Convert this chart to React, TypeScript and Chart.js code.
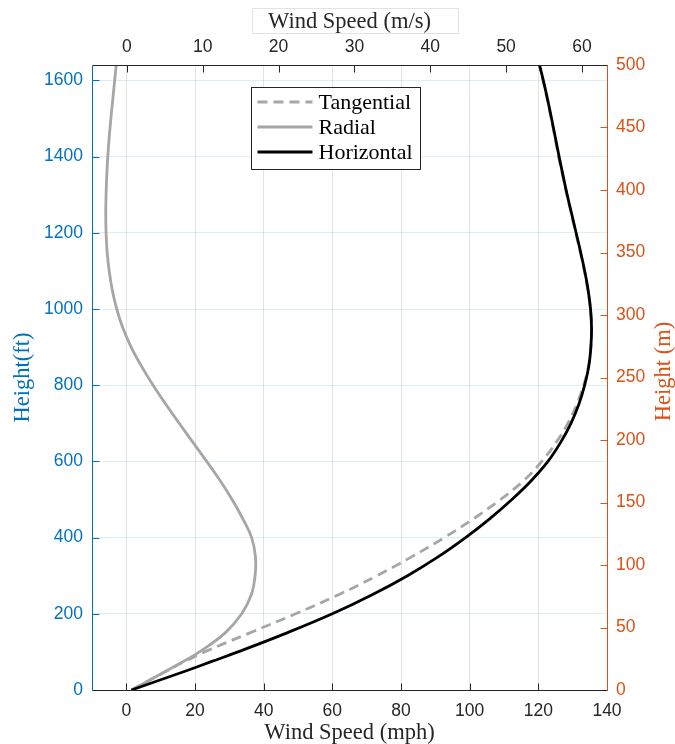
import React, { useEffect, useRef } from "react";
import { Chart, registerables } from "chart.js";

Chart.register(...registerables);

// ---------- data ----------
const heightFt = [
  0, 25, 50, 75, 100, 150, 200, 250, 300, 350, 400, 450, 500, 550, 600, 650, 700, 750,
  800, 850, 900, 950, 1000, 1050, 1100, 1150, 1200, 1250, 1300, 1350, 1400, 1450, 1500,
  1550, 1600, 1640.42,
];
const tangentialMph = [
  1.5, 6.6, 11.8, 17.0, 22.8, 36.0, 49.3, 61.8, 73.0, 83.2, 92.6, 101.2, 109.0, 115.8,
  121.0, 125.2, 128.6, 131.2, 133.2, 134.6, 135.3, 135.5, 135.2, 134.4, 133.4, 132.2,
  130.9, 129.6, 128.3, 127.1, 125.9, 124.85, 123.75, 122.6, 121.35, 120.25,
];
const radialMph = [
  1.5, 6.6, 11.6, 16.6, 21.3, 28.8, 33.6, 36.4, 37.5, 37.6, 36.5, 33.9, 30.8, 27.3, 23.4,
  19.4, 15.4, 11.5, 7.8, 4.4, 1.4, -1.0, -2.8, -4.1, -5.0, -5.6, -5.9, -6.0, -5.9, -5.7,
  -5.4, -5.0, -4.5, -3.95, -3.4, -2.95,
];
const horizontalMph = [
  1.5, 9.4, 17.3, 24.9, 32.5, 46.8, 60.0, 71.6, 81.9, 90.9, 98.8, 105.9, 112.3, 118.0,
  122.8, 126.5, 129.5, 131.8, 133.5, 134.7, 135.3, 135.5, 135.2, 134.5, 133.5, 132.3,
  131.0, 129.7, 128.4, 127.2, 126.05, 124.95, 123.85, 122.7, 121.45, 120.35,
];
const seriesNames = ["Tangential", "Radial", "Horizontal"];

const mphTicks = [0, 20, 40, 60, 80, 100, 120, 140];
const msTicks = [0, 10, 20, 30, 40, 50, 60];
const ftTicks = [0, 200, 400, 600, 800, 1000, 1200, 1400, 1600];
const mTicks = [0, 50, 100, 150, 200, 250, 300, 350, 400, 450, 500];

const mphRange = [-10, 140];
const msRange = [-4.6, 63.3];
const ftRange = [0, 1640.42];
const mRange = [0, 500];

const bottomTitle = "Wind Speed (mph)";
const topTitle = "Wind Speed (m/s)";
const leftTitle = "Height(ft)";
const rightTitle = "Height (m)";

// ---------- styles ----------
const AXIS = "#262626";
const BLUE = "#0072BD";
const ORANGE = "#D95319";
const GRAY = "#A6A6A6";
const SERIF = "'Liberation Serif', 'Times New Roman', serif";
const SANS = "'Liberation Sans', Arial, sans-serif";

const toPoints = (xs: number[]) => xs.map((x, i) => ({ x, y: heightFt[i] }));
const plainLabel = (v: any) => String(v);

const decorPlugin = {
  id: "decor",
  afterDraw(chart: any) {
    const { ctx, chartArea: a, scales } = chart;
    ctx.save();
    const tl = 7;
    const seg = (x1: number, y1: number, x2: number, y2: number, c: string, w = 1) => {
      ctx.beginPath();
      ctx.strokeStyle = c;
      ctx.lineWidth = w;
      ctx.moveTo(x1, y1);
      ctx.lineTo(x2, y2);
      ctx.stroke();
    };
    const L = Math.round(a.left) + 0.5;
    const R = Math.round(a.right) + 0.5;
    const T = Math.round(a.top) + 0.5;
    const B = Math.round(a.bottom) + 0.5;
    // tick marks (inside)
    scales.x.ticks.forEach((t: any) => {
      const p = Math.round(scales.x.getPixelForValue(t.value)) + 0.5;
      seg(p, B, p, B - tl, AXIS);
    });
    scales.x2.ticks.forEach((t: any) => {
      const p = Math.round(scales.x2.getPixelForValue(t.value)) + 0.5;
      seg(p, T, p, T + tl, AXIS);
    });
    scales.y.ticks.forEach((t: any) => {
      const p = Math.round(scales.y.getPixelForValue(t.value)) + 0.5;
      seg(L, p, L + tl, p, BLUE);
    });
    scales.y2.ticks.forEach((t: any) => {
      const p = Math.round(scales.y2.getPixelForValue(t.value)) + 0.5;
      seg(R, p, R - tl, p, ORANGE);
    });
    // axis box
    seg(L, T, R, T, AXIS);
    seg(L, B, R, B, AXIS);
    seg(L, T, L, B, BLUE);
    seg(R, T, R, B, ORANGE);

    // faint box around top title
    ctx.strokeStyle = "#e3e3e3";
    ctx.lineWidth = 1;
    ctx.strokeRect(L + 160, 8.5, 206, 25);

    // right axis title (reads bottom-to-top)
    ctx.save();
    ctx.translate(664, (a.top + a.bottom) / 2 - 6);
    ctx.rotate(-Math.PI / 2);
    ctx.fillStyle = ORANGE;
    ctx.font = `22.5px ${SERIF}`;
    ctx.textAlign = "center";
    ctx.textBaseline = "middle";
    ctx.fillText(rightTitle, 0, 0);
    ctx.restore();

    // legend
    const lx = L + 159;
    const ly = T + 22;
    const lw = 169;
    const lh = 82;
    ctx.fillStyle = "#ffffff";
    ctx.fillRect(lx, ly, lw, lh);
    ctx.strokeStyle = AXIS;
    ctx.lineWidth = 1;
    ctx.strokeRect(lx, ly, lw, lh);
    const styles = [
      { c: GRAY, dash: [10, 6] },
      { c: GRAY, dash: [] },
      { c: "#000000", dash: [] },
    ];
    ctx.font = `22px ${SERIF}`;
    ctx.textBaseline = "middle";
    ctx.textAlign = "left";
    seriesNames.forEach((name, i) => {
      const yy = ly + 14.5 + i * 25;
      ctx.save();
      ctx.setLineDash(styles[i].dash);
      seg(lx + 6, yy, lx + 61, yy, styles[i].c, 2.8);
      ctx.restore();
      ctx.fillStyle = "#000000";
      ctx.fillText(name, lx + 67, yy + 1);
    });
    ctx.restore();
  },
};

export default function App() {
  const ref = useRef<HTMLCanvasElement | null>(null);
  useEffect(() => {
    if (!ref.current) return;
    const setTicks = (vals: number[]) => (scale: any) => {
      scale.ticks = vals.map((v) => ({ value: v }));
    };
    const lineBase = {
      pointRadius: 0,
      borderWidth: 2.8,
      tension: 0.4,
      xAxisID: "x",
      yAxisID: "y",
    };
    const chart = new Chart(ref.current, {
      type: "line",
      data: {
        datasets: [
          {
            ...lineBase,
            label: seriesNames[0],
            data: toPoints(tangentialMph),
            borderColor: GRAY,
            borderDash: [10, 6],
            order: 1,
          },
          {
            ...lineBase,
            label: seriesNames[1],
            data: toPoints(radialMph),
            borderColor: GRAY,
            order: 2,
          },
          {
            ...lineBase,
            label: seriesNames[2],
            data: toPoints(horizontalMph),
            borderColor: "#000000",
            order: 0,
          },
        ],
      },
      options: {
        indexAxis: "y",
        animation: false,
        responsive: false,
        devicePixelRatio: 1,
        layout: { padding: 0 },
        plugins: { legend: { display: false }, tooltip: { enabled: false } },
        scales: {
          x: {
            type: "linear",
            position: "bottom",
            min: mphRange[0],
            max: mphRange[1],
            afterBuildTicks: setTicks(mphTicks),
            afterFit: (s: any) => {
              s.height = 54;
            },
            grid: { color: "rgba(38,38,38,0.13)", lineWidth: 1, drawTicks: false },
            border: { display: false },
            ticks: {
              color: AXIS,
              padding: 11,
              font: { family: SANS, size: 17.5 },
              maxRotation: 0,
              callback: plainLabel,
            },
            title: {
              display: true,
              text: bottomTitle,
              color: AXIS,
              font: { family: SERIF, size: 22.5, lineHeight: 1 },
              padding: { top: 0, bottom: 0 },
            },
          },
          x2: {
            type: "linear",
            position: "top",
            min: msRange[0],
            max: msRange[1],
            afterBuildTicks: setTicks(msTicks),
            afterFit: (s: any) => {
              s.height = 65;
            },
            grid: { display: false, drawTicks: false },
            border: { display: false },
            ticks: {
              color: AXIS,
              padding: 7,
              font: { family: SANS, size: 17.5 },
              maxRotation: 0,
              callback: plainLabel,
            },
            title: {
              display: true,
              text: topTitle,
              color: AXIS,
              font: { family: SERIF, size: 22.5, lineHeight: 1 },
              padding: { top: 11, bottom: 0 },
            },
          },
          y: {
            type: "linear",
            position: "left",
            min: ftRange[0],
            max: ftRange[1],
            afterBuildTicks: setTicks(ftTicks),
            afterFit: (s: any) => {
              s.width = 92;
            },
            grid: { color: "rgba(0,114,189,0.13)", lineWidth: 1, drawTicks: false },
            border: { display: false },
            ticks: {
              color: BLUE,
              padding: 9,
              font: { family: SANS, size: 17.5 },
              callback: plainLabel,
            },
            title: {
              display: true,
              text: leftTitle,
              color: BLUE,
              font: { family: SERIF, size: 22.5, lineHeight: 1 },
              padding: { top: 12, bottom: 0 },
            },
          },
          y2: {
            type: "linear",
            position: "right",
            min: mRange[0],
            max: mRange[1],
            afterBuildTicks: setTicks(mTicks),
            afterFit: (s: any) => {
              s.width = 68;
            },
            grid: { display: false, drawTicks: false },
            border: { display: false },
            ticks: {
              color: ORANGE,
              padding: 9,
              font: { family: SANS, size: 17.5 },
              callback: plainLabel,
            },
            title: { display: false },
          },
        },
      },
      plugins: [decorPlugin],
    });
    return () => chart.destroy();
  }, []);
  return (
    <div style={{ position: "fixed", left: 0, top: 0, width: 675, height: 744, background: "#fff" }}>
      <canvas ref={ref} width={675} height={744} style={{ display: "block" }} />
    </div>
  );
}
